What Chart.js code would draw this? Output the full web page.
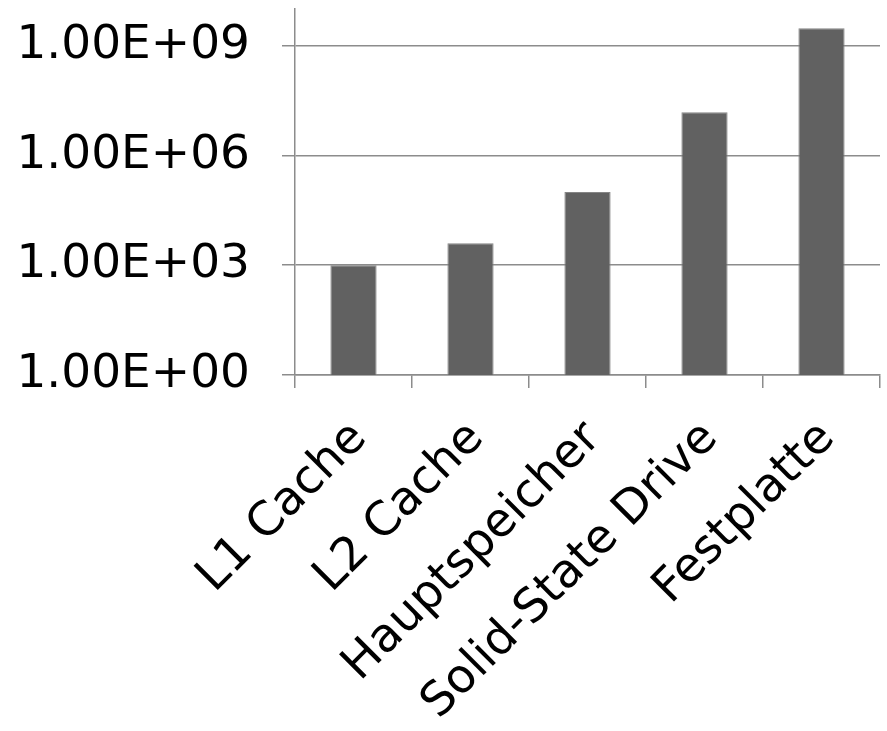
<!DOCTYPE html>
<html>
<head>
<meta charset="utf-8">
<script src="https://cdn.jsdelivr.net/npm/chart.js@4"></script>
<style>
  html, body { margin: 0; padding: 0; background: #fff; }
  #wrap { width: 887px; height: 731px; }
</style>
</head>
<body>
<div id="wrap"><canvas id="chart"></canvas></div>
<script>
// --- DONNÉES ---
const categories = ['L1 Cache', 'L2 Cache', 'Hauptspeicher', 'Solid-State Drive', 'Festplatte'];
const values = [1000, 4000, 100000, 15000000, 3000000000];
const yTicks = [1, 1e3, 1e6, 1e9];

const fmtExp = (v) => {
  const e = Math.round(Math.log10(v));
  const m = v / Math.pow(10, e);
  return m.toFixed(2) + 'E' + (e < 0 ? '-' : '+') + String(Math.abs(e)).padStart(2, '0');
};

const font = { family: '"DejaVu Sans", Verdana, sans-serif', size: 47 };

new Chart(document.getElementById('chart'), {
  type: 'bar',
  data: {
    labels: categories,
    datasets: [{
      data: values,
      backgroundColor: '#616161',
      borderColor: '#858585',
      borderWidth: 1,
      barPercentage: 0.395,
      categoryPercentage: 1
    }]
  },
  options: {
    responsive: true,
    maintainAspectRatio: false,
    animation: false,
    layout: { padding: { left: 0, right: 7, top: 9, bottom: 0 } },
    plugins: { legend: { display: false }, tooltip: { enabled: false } },
    scales: {
      x: {
        afterFit: (scale) => { scale.height = 356; scale.paddingLeft = 0; scale.paddingRight = 0; },
        grid: { drawOnChartArea: false, drawTicks: true, tickLength: 13, color: '#8c8c8c', lineWidth: 1.5 },
        border: { color: '#8c8c8c', width: 1.5 },
        ticks: { color: '#000', font: font, minRotation: 45, maxRotation: 45, autoSkip: false, padding: 23, labelOffset: 6 }
      },
      y: {
        type: 'logarithmic',
        min: 1,
        max: 1e10,
        afterBuildTicks: (scale) => { scale.ticks = yTicks.map(v => ({ value: v })); },
        afterFit: (scale) => { scale.width = 295; scale.paddingTop = 0; scale.paddingBottom = 0; },
        grid: { color: '#8c8c8c', lineWidth: 1.5, tickLength: 13 },
        border: { color: '#8c8c8c', width: 1.5 },
        ticks: { color: '#000', font: font, padding: 32, callback: (v) => fmtExp(v) }
      }
    }
  }
});
</script>
</body>
</html>
